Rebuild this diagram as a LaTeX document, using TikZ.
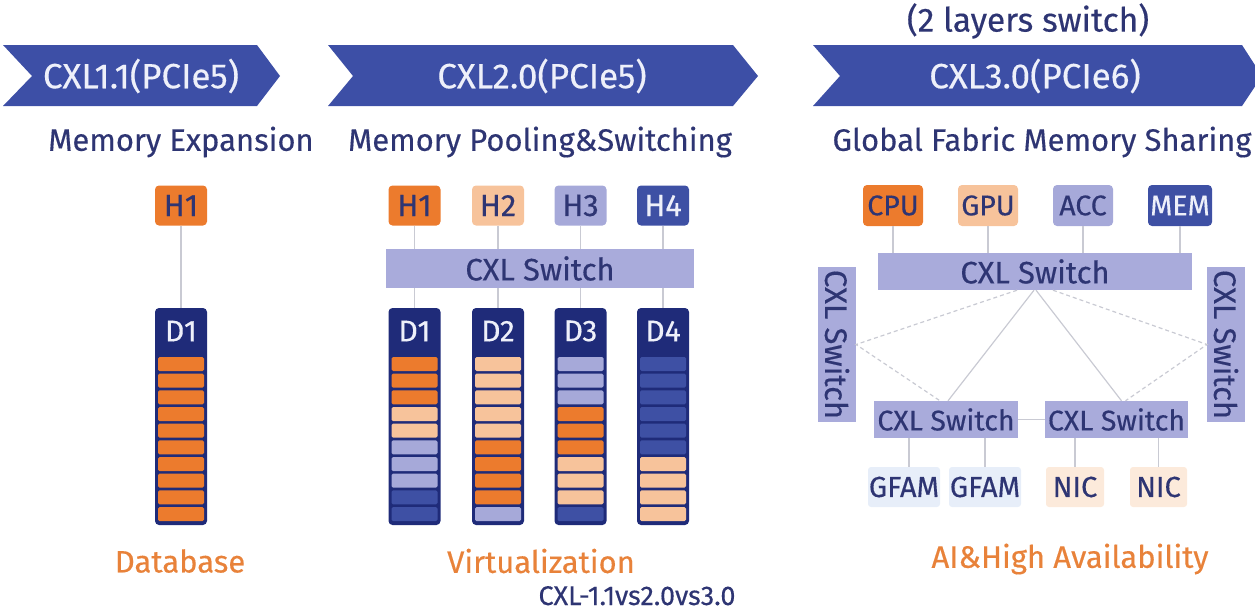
\documentclass[tikz,border=0pt]{standalone}
\usepackage{fontspec}
\setmainfont{Fira Sans}[FakeBold=0.35]
\usetikzlibrary{calc}

\definecolor{bannerblue}{HTML}{3D4FA6}
\definecolor{textnavy}{HTML}{2E3573}
\definecolor{devnavy}{HTML}{1F2B79}
\definecolor{co}{HTML}{EC7B2D}
\definecolor{cp}{HTML}{F7C39B}
\definecolor{cl}{HTML}{A6A9D9}
\definecolor{cb}{HTML}{3E50A4}
\definecolor{swfill}{HTML}{A9ABDB}
\definecolor{wirecol}{HTML}{C9CAD3}
\definecolor{labelorange}{HTML}{E8823A}
\definecolor{lighttext}{HTML}{EEF0FA}
\definecolor{gfamfill}{HTML}{E7EEF9}
\definecolor{nicfill}{HTML}{FCEADB}

% memory device: frame, header label and coloured stripes
\newcommand{\memdev}[4]{%
  \node[device] (#1) at (#2,416.5) {};
  \node[devlabel] (#1t) at (#2,331) {#3};
  \foreach \c [count=\i from 0] in {#4}
    \fill[\c, rounded corners=1.5pt] (#2-23,357+16.67*\i) rectangle ++(46,14);
}

\begin{document}
\begin{tikzpicture}[x=1pt,y=-1pt,
  fsz/.style={font=\fontsize{#1}{#1}\selectfont},
  wire/.style={draw=wirecol, line width=1.2pt},
  dwire/.style={draw=wirecol, line width=1.2pt, dash pattern=on 4pt off 3pt},
  hostbox/.style={rounded corners=4pt, minimum width=52, minimum height=40,
    inner sep=0pt, fsz=31, text=textnavy},
  unitbox/.style={rounded corners=4pt, minimum width=60, minimum height=41,
    inner sep=0pt, fsz=28.5, text=textnavy},
  leafbox/.style={rounded corners=3pt, minimum height=40,
    inner sep=0pt, fsz=29, text=textnavy},
  switchbox/.style={fill=swfill, inner sep=0pt, fsz=31, text=textnavy},
  device/.style={fill=devnavy, rounded corners=4pt, minimum width=52,
    minimum height=217, inner sep=0pt},
  devlabel/.style={fsz=30, text=lighttext, inner sep=0pt},
  bannertext/.style={fsz=35, text=lighttext, inner sep=0pt},
  subtitle/.style={fsz=31, text=textnavy, inner sep=0pt},
  usecase/.style={fsz=31, text=labelorange, inner sep=0pt},
]
\useasboundingbox (0,0) rectangle (1255,613);

% ---------- banners ----------
\fill[bannerblue] (3,45) -- (257,45) -- (280,76) -- (257,106) -- (3,106) -- (32,76) -- cycle;
\fill[bannerblue] (328,45) -- (733,45) -- (758,76) -- (733,106) -- (328,106) -- (353,76) -- cycle;
\fill[bannerblue] (813,45) -- (1242,45) -- (1262,76) -- (1242,106) -- (813,106) -- (840,76) -- cycle;
\node[bannertext] (b1) at (141,76) {CXL1.1(PCIe5)};
\node[bannertext] (b2) at (542,76) {CXL2.0(PCIe5)};
\node[bannertext] (b3) at (1035,76) {CXL3.0(PCIe6)};
\node[subtitle, fsz=33.5] (note3) at (1028,21) {(2 layers switch)};

\node[subtitle] (s1) at (181,142) {Memory Expansion};
\node[subtitle] (s2) at (540,142) {Memory Pooling\&Switching};
\node[subtitle] (s3) at (1042,142) {Global Fabric Memory Sharing};

% ---------- CXL 1.1 ----------
\node[hostbox, fill=co] (p1h1) at (181,205.5) {H1};
\memdev{p1d1}{181}{D1}{co,co,co,co,co,co,co,co,co,co}
\draw[wire] (p1h1.south) -- (p1d1.north);

% ---------- CXL 2.0 ----------
\node[hostbox, fill=co] (p2h1) at (414.5,205.5) {H1};
\node[hostbox, fill=cp] (p2h2) at (498,205.5) {H2};
\node[hostbox, fill=cl] (p2h3) at (580.5,205.5) {H3};
\node[hostbox, fill=cb, text=lighttext] (p2h4) at (663,205.5) {H4};
\node[switchbox, minimum width=308, minimum height=39] (p2sw) at (540,268.5) {CXL Switch};
\memdev{p2d1}{414.5}{D1}{co,co,co,cp,cp,cl,cl,cl,cb,cb}
\memdev{p2d2}{498}{D2}{cp,cp,cp,cp,cp,co,co,co,co,cl}
\memdev{p2d3}{580.5}{D3}{cl,cl,cl,co,co,co,cp,cp,cp,cb}
\memdev{p2d4}{663}{D4}{cb,cb,cb,cb,cb,cb,cp,cp,cp,cp}
\foreach \k in {1,2,3,4}{
  \draw[wire] (p2h\k.south) -- (p2h\k.south |- p2sw.north);
  \draw[wire] (p2sw.south -| p2d\k.north) -- (p2d\k.north);
}

% ---------- CXL 3.0 ----------
\node[unitbox, fill=co] (cpu) at (893,205.5) {CPU};
\node[unitbox, fill=cp] (gpu) at (988,205.5) {GPU};
\node[unitbox, fill=cl] (acc) at (1083,205.5) {ACC};
\node[unitbox, fill=cb, text=lighttext, minimum width=64] (mem) at (1180,205.5) {MEM};
\node[switchbox, minimum width=314, minimum height=37] (p3sw) at (1035,271.5) {CXL Switch};
\foreach \u in {cpu,gpu,acc,mem}
  \draw[wire] (\u.south) -- (\u.south |- p3sw.north);

\node[switchbox, rotate=-90, minimum width=155, minimum height=38] (p3vl) at (837,344.5) {CXL Switch};
\node[switchbox, rotate=-90, minimum width=155, minimum height=38] (p3vr) at (1226,344.5) {CXL Switch};

\node[switchbox, fsz=28.5, minimum width=144, minimum height=37] (p3bl) at (946,419.5) {CXL Switch};
\node[switchbox, fsz=28.5, minimum width=143, minimum height=37] (p3br) at (1116.5,419.5) {CXL Switch};
\draw[wire] (p3bl.east) -- (p3br.west);

\coordinate (jl) at ($(p3vl.center)+(19,0)$);
\coordinate (jr) at ($(p3vr.center)+(-19,0)$);
\coordinate (tl) at ($(p3bl.north)+(-6,0)$);
\coordinate (tr) at ($(p3br.north)+(9,0)$);
\draw[dwire] ($(p3sw.south)+(-18,0)$) -- (jl) -- (tl);
\draw[dwire] ($(p3sw.south)+(18,0)$) -- (jr) -- (tr);
\draw[wire] ($(p3sw.south)+(-1,0)$) -- ($(p3bl.north)+(2,0)$);
\draw[wire] ($(p3sw.south)+(1,0)$) -- ($(p3br.north)+(5,0)$);

\node[leafbox, fill=gfamfill, minimum width=72] (g1) at (904,487) {GFAM};
\node[leafbox, fill=gfamfill, minimum width=72] (g2) at (985,487) {GFAM};
\node[leafbox, fill=nicfill, minimum width=58] (n1) at (1075,487) {NIC};
\node[leafbox, fill=nicfill, minimum width=57] (n2) at (1158.5,487) {NIC};
\draw[wire] (p3bl.south -| 909,0) -- (g1.north -| 909,0);
\draw[wire] (p3bl.south -| g2.north) -- (g2.north);
\draw[wire] (p3br.south -| n1.north) -- (n1.north);
\draw[wire] (p3br.south -| n2.north) -- (n2.north);

% ---------- use cases ----------
\node[usecase] (u1) at (180,561) {Database};
\node[usecase] (u2) at (541,561) {Virtualization};
\node[usecase] (u3) at (1070,559) {AI\&High Availability};
\node[fsz=27, text=textnavy, inner sep=0pt, anchor=base] (cap) at (637,605) {CXL-1.1vs2.0vs3.0};
\end{tikzpicture}
\end{document}
